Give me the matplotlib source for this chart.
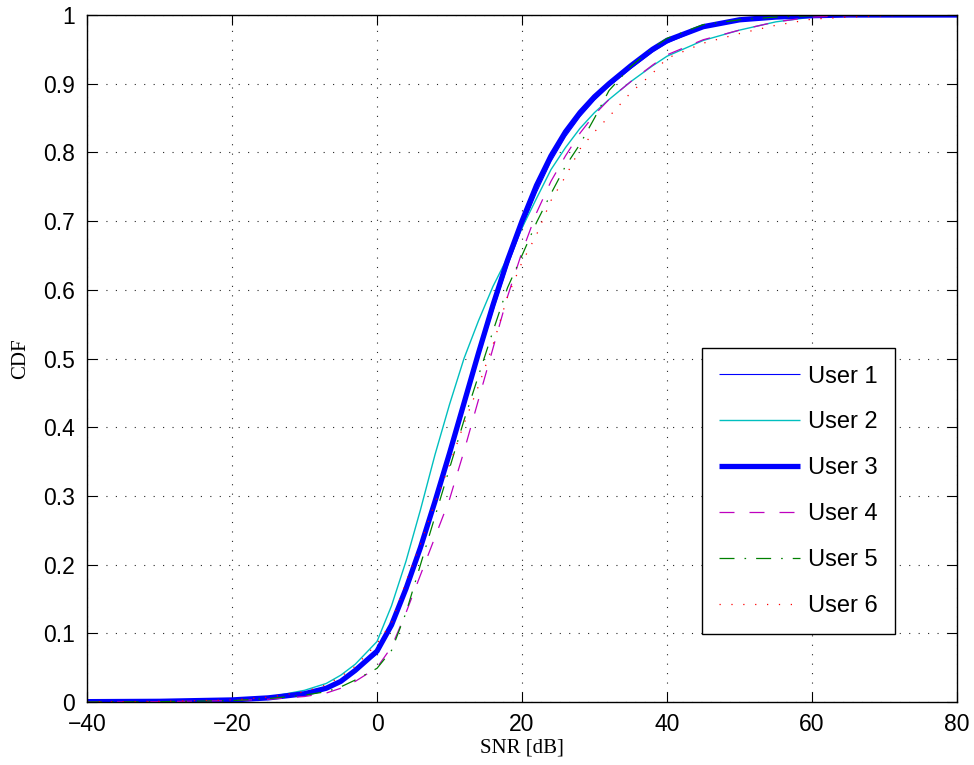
import matplotlib
matplotlib.use("Agg")
import matplotlib.pyplot as plt

# SNR grid (dB) at which the CDF values were read
snr_db = [-40, -30, -20, -15, -10, -7, -5, -3, 0, 2, 4, 6, 8, 10, 12, 14, 16, 18,
          20, 22, 24, 26, 28, 30, 32, 35, 38, 40, 45, 50, 55, 60, 65, 70, 80]

cdf_user1 = [0.0005, 0.001, 0.003, 0.006, 0.012, 0.02, 0.03, 0.046, 0.07, 0.108, 0.162,
             0.222, 0.288, 0.358, 0.43, 0.502, 0.57, 0.635, 0.69, 0.742, 0.787, 0.823,
             0.852, 0.876, 0.896, 0.922, 0.946, 0.959, 0.982, 0.993, 0.997, 0.999, 1.0, 1.0, 1.0]
cdf_user2 = [0.0005, 0.001, 0.003, 0.007, 0.017, 0.027, 0.039, 0.055, 0.088, 0.14, 0.205,
             0.28, 0.36, 0.433, 0.50, 0.555, 0.605, 0.647, 0.69, 0.733, 0.775, 0.807,
             0.835, 0.858, 0.877, 0.903, 0.926, 0.94, 0.963, 0.978, 0.99, 0.997, 0.999, 1.0, 1.0]
cdf_user3 = [0.0005, 0.001, 0.003, 0.006, 0.012, 0.02, 0.03, 0.046, 0.074, 0.112, 0.165,
             0.225, 0.292, 0.362, 0.435, 0.508, 0.578, 0.643, 0.70, 0.752, 0.795, 0.83,
             0.858, 0.881, 0.90, 0.926, 0.95, 0.963, 0.983, 0.993, 0.997, 0.999, 1.0, 1.0, 1.0]
cdf_user4 = [0.0, 0.0005, 0.002, 0.004, 0.008, 0.013, 0.02, 0.03, 0.05, 0.08, 0.13,
             0.185, 0.24, 0.295, 0.365, 0.44, 0.515, 0.59, 0.655, 0.712, 0.758, 0.795,
             0.828, 0.855, 0.877, 0.903, 0.927, 0.942, 0.964, 0.978, 0.99, 0.997, 0.999, 1.0, 1.0]
cdf_user5 = [0.0, 0.0005, 0.002, 0.005, 0.01, 0.015, 0.022, 0.032, 0.049, 0.075, 0.13,
             0.20, 0.27, 0.34, 0.41, 0.475, 0.54, 0.603, 0.65, 0.698, 0.74, 0.78,
             0.812, 0.85, 0.89, 0.925, 0.952, 0.966, 0.986, 0.993, 0.997, 0.999, 1.0, 1.0, 1.0]
cdf_user6 = [0.0, 0.001, 0.003, 0.007, 0.015, 0.025, 0.037, 0.052, 0.085, 0.115, 0.175,
             0.23, 0.29, 0.345, 0.405, 0.46, 0.52, 0.59, 0.64, 0.68, 0.73, 0.765,
             0.805, 0.83, 0.852, 0.887, 0.915, 0.937, 0.959, 0.973, 0.985, 0.994, 0.997, 0.999, 1.0]

labels = ["User 1", "User 2", "User 3", "User 4", "User 5", "User 6"]
x_ticks = [-40, -20, 0, 20, 40, 60, 80]
y_ticks = [0, 0.1, 0.2, 0.3, 0.4, 0.5, 0.6, 0.7, 0.8, 0.9, 1]
y_tick_labels = ["0", "0.1", "0.2", "0.3", "0.4", "0.5", "0.6", "0.7", "0.8", "0.9", "1"]

fig = plt.figure(figsize=(9.74, 7.65), dpi=100)
ax = fig.add_axes([87 / 974, 63 / 765, 870 / 974, 687 / 765])

series = [cdf_user1, cdf_user2, cdf_user3, cdf_user4, cdf_user5, cdf_user6]
styles = [
    dict(color=(0, 0, 1), lw=0.8, ls="-"),
    dict(color=(0, 0.75, 0.75), lw=1.0, ls="-"),
    dict(color=(0, 0, 1), lw=3.8, ls="-"),
    dict(color=(0.75, 0, 0.75), lw=0.9, ls=(0, (12, 12))),
    dict(color=(0, 0.5, 0), lw=0.9, ls=(0, (12, 8, 1.3, 8))),
    dict(color=(1, 0, 0), lw=0.9, ls=(0, (1, 8.5))),
]
for ys, st, lab in zip(series, styles, labels):
    ax.plot(snr_db, ys, label=lab, solid_capstyle="butt", dash_capstyle="butt",
            solid_joinstyle="round", **st)

ax.set_xlim(-40, 80)
ax.set_ylim(0, 1)
ax.set_xticks(x_ticks)
ax.set_yticks(y_ticks)
ax.set_yticklabels(y_tick_labels)

for lbl in ax.get_xticklabels() + ax.get_yticklabels():
    lbl.set_fontfamily("Liberation Sans")
    lbl.set_fontsize(16.5)

ax.tick_params(direction="in", length=7, width=0.8, top=True, right=True,
               pad=8, colors="black")
ax.tick_params(axis="y", pad=9)

ax.grid(True, color="black", lw=0.8, ls=(0, (1, 7.5)), alpha=0.85)
for sp in ax.spines.values():
    sp.set_linewidth(1.0)
    sp.set_color("black")

ax.set_xlabel("SNR [dB]", family="Liberation Serif", fontsize=15, labelpad=2)
ax.set_ylabel("CDF", family="Liberation Serif", fontsize=15, labelpad=9)

leg = ax.legend(loc="lower right", bbox_to_anchor=((895 - 87) / 870, (702 - 634) / 687),
                borderaxespad=0, prop=dict(family="Liberation Sans", size=17),
                fancybox=False, framealpha=1, edgecolor="black",
                handlelength=3.4, handletextpad=0.35, labelspacing=1.01,
                borderpad=0.73)
leg.get_frame().set_linewidth(1.0)

fig.savefig("out.png", dpi=100)
